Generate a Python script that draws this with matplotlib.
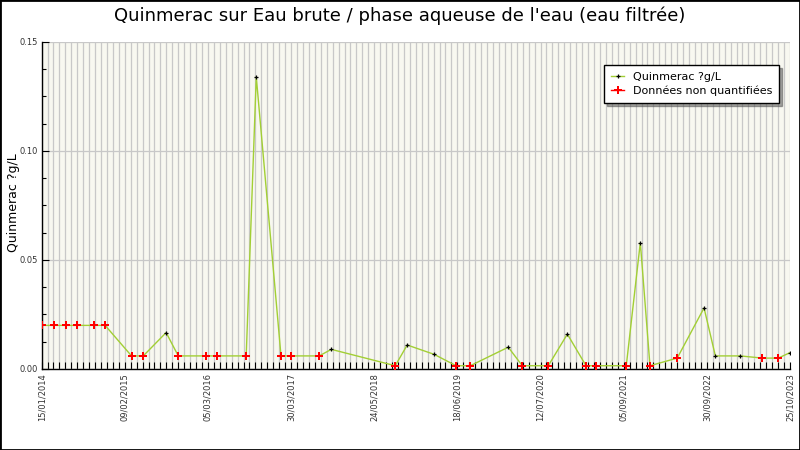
import matplotlib
matplotlib.use("Agg")
import matplotlib.pyplot as plt
import matplotlib.dates as mdates
from matplotlib.lines import Line2D
from matplotlib.patches import Rectangle
import numpy as np
import pandas as pd

# %%
# values (dates estimated from pixel position)
sample_dates = [
    "2014-01-15", "2014-03-16", "2014-05-11", "2014-07-04", "2014-09-23",
    "2014-11-14", "2015-03-20", "2015-05-15", "2015-09-01", "2015-10-29",
    "2016-03-07", "2016-05-02", "2016-09-17", "2016-11-04", "2017-03-02",
    "2017-04-18", "2017-08-31", "2017-10-28", "2018-08-29", "2018-10-25",
    "2019-03-03", "2019-06-15", "2019-08-22", "2020-02-19", "2020-04-26",
    "2020-08-28", "2020-11-27", "2021-02-24", "2021-04-14", "2021-09-04",
    "2021-11-10", "2021-12-26", "2022-05-05", "2022-09-10", "2022-11-03",
    "2023-03-02", "2023-06-15", "2023-08-30", "2023-10-25",
]
quinmerac = [
    0.02, 0.02, 0.02, 0.02, 0.02,
    0.02, 0.006, 0.006, 0.0167, 0.006,
    0.006, 0.006, 0.006, 0.134, 0.006,
    0.006, 0.006, 0.009, 0.0015, 0.011,
    0.0067, 0.0015, 0.0015, 0.010, 0.0015,
    0.0015, 0.016, 0.0015, 0.0015, 0.0015,
    0.058, 0.0015, 0.005, 0.028, 0.006,
    0.006, 0.005, 0.005, 0.0075,
]
# 1 = donnée non quantifiée (red marker)
non_quantifiee = [
    1, 1, 1, 1, 1,
    1, 1, 1, 0, 1,
    1, 1, 1, 0, 1,
    1, 1, 0, 1, 0,
    0, 1, 1, 0, 1,
    1, 0, 1, 1, 1,
    0, 1, 1, 0, 0,
    0, 1, 1, 0,
]
tick_labels = [
    "15/01/2014", "09/02/2015", "05/03/2016", "30/03/2017", "24/05/2018",
    "18/06/2019", "12/07/2020", "05/09/2021", "30/09/2022", "25/10/2023",
]

LINE_COLOR = "#a2cf34"
GRID_COLOR = "#c8c8c8"

# %%
x = mdates.date2num(pd.to_datetime(sample_dates))
y = np.array(quinmerac)
nq = np.array(non_quantifiee) == 1

x_start = mdates.date2num(pd.Timestamp("2014-01-15"))
x_end = mdates.date2num(pd.Timestamp("2023-10-25"))

fig = plt.figure(figsize=(8, 4.5), dpi=100)
ax = fig.add_axes([0.052, 0.18, 0.9355, 0.727])
ax.set_facecolor("#f8f8f0")

ax.plot(x, y, color=LINE_COLOR, lw=1, zorder=3)
ax.plot(x[~nq], y[~nq], "+", color="black", ms=3.5, mew=0.9, zorder=4)
ax.plot(x[nq], y[nq], "P", color="red", ms=5.3, mew=0, zorder=5)

ax.set_xlim(x_start, x_end)
ax.set_ylim(0, 0.15)

ax.set_xticks(np.linspace(x_start, x_end, len(tick_labels)))
ax.set_xticklabels(tick_labels, rotation=90, fontsize=6, color="#333333")
ax.set_xticks(np.linspace(x_start, x_end, (len(tick_labels) - 1) * 14 + 1), minor=True)

ax.set_yticks([0, 0.05, 0.10, 0.15])
ax.set_yticklabels(["0.00", "0.05", "0.10", "0.15"], fontsize=6, color="#333333")
ax.set_yticks(np.arange(0, 0.15001, 0.0125), minor=True)

ax.tick_params(axis="x", which="both", direction="in", length=5, width=0.8, pad=3)
ax.tick_params(axis="y", which="major", direction="in", length=5, width=0.8, pad=3)
ax.tick_params(axis="y", which="minor", direction="in", length=3, width=0.8)

ax.xaxis.grid(True, which="both", color=GRID_COLOR, lw=0.9)
ax.yaxis.grid(True, which="major", color=GRID_COLOR, lw=0.9)
ax.set_axisbelow(True)

for side in ["top", "right"]:
    ax.spines[side].set_visible(False)
for side in ["left", "bottom"]:
    ax.spines[side].set_color("black")
    ax.spines[side].set_linewidth(1)

fig.text(14 / 800, 0.55, "Quinmerac ?g/L", fontsize=9, rotation=90,
         ha="center", va="center")
fig.suptitle("Quinmerac sur Eau brute / phase aqueuse de l'eau (eau filtrée)",
             fontsize=13, y=0.985)

handles = [
    Line2D([], [], color=LINE_COLOR, lw=1, marker="+", mec="black", ms=3.5, mew=0.9),
    Line2D([], [], color="red", lw=1, marker="P", mfc="red", mec="red", ms=5.3, mew=0),
]
leg = ax.legend(handles, ["Quinmerac ?g/L", "Données non quantifiées"],
                loc="upper right", bbox_to_anchor=(0.993, 0.946), fontsize=8,
                fancybox=False, shadow=True, framealpha=1, edgecolor="black",
                handlelength=1.2, borderpad=0.6, labelspacing=0.35)
leg.get_frame().set_linewidth(1)

fig.patches.append(Rectangle((0, 0), 1, 1, transform=fig.transFigure,
                             fill=False, ec="black", lw=2))

fig.savefig("out.png", dpi=100)
